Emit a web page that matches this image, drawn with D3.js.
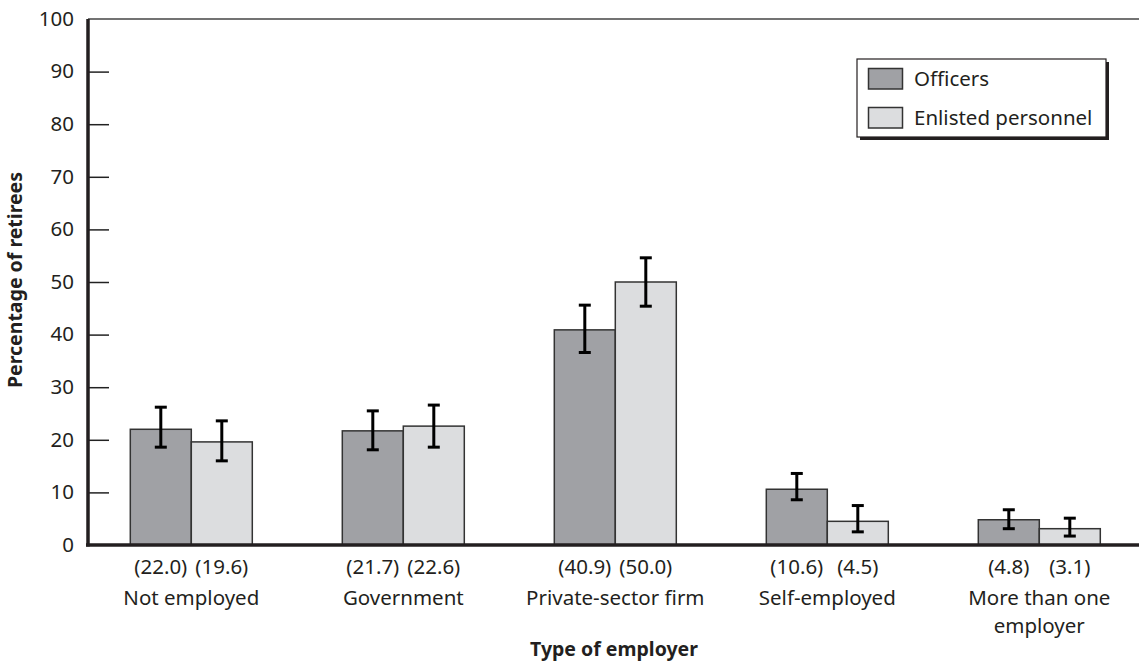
<!DOCTYPE html>
<html><head><meta charset="utf-8">
<script src="https://cdn.jsdelivr.net/npm/d3@7"></script>
<style>
html,body{margin:0;padding:0;background:#fff;}
svg{display:block;font-family:"Noto Sans","Open Sans",sans-serif;}
</style></head>
<body>
<svg id="chart" width="1139" height="664"></svg>
<script>
const categories = [["Not employed"], ["Government"], ["Private-sector firm"], ["Self-employed"], ["More than one", "employer"]];
const seriesNames = ["Officers", "Enlisted personnel"];
const officers = [22.0, 21.7, 40.9, 10.6, 4.8];
const enlisted = [19.6, 22.6, 50.0, 4.5, 3.1];
const officersLabels = ["(22.0)", "(21.7)", "(40.9)", "(10.6)", "(4.8)"];
const enlistedLabels = ["(19.6)", "(22.6)", "(50.0)", "(4.5)", "(3.1)"];
const officersLow = [18.6, 18.1, 36.6, 8.6, 3.1];
const officersHigh = [26.2, 25.5, 45.6, 13.6, 6.7];
const enlistedLow = [16.0, 18.6, 45.4, 2.5, 1.7];
const enlistedHigh = [23.6, 26.6, 54.6, 7.5, 5.1];
const yTicks = [0, 10, 20, 30, 40, 50, 60, 70, 80, 90, 100];
const yTitle = "Percentage of retirees";
const xTitle = "Type of employer";
const colors = ["#a0a1a5", "#dcdddf"];

const svg = d3.select("#chart");
const catKeys = categories.map(c => c.join(" "));
const y = d3.scaleLinear().domain([0, 100]).range([545, 19]);
const x0 = d3.scaleBand().domain(catKeys).range([85.3, 1145.3]).padding(0);
const groupW = 122;
const x1 = d3.scaleBand().domain(seriesNames).range([0, groupW]).padding(0);
const gx = k => x0(k) + x0.bandwidth() / 2 - groupW / 2;
const FS = 20.5;

const series = [
  {name: seriesNames[0], vals: officers, lo: officersLow, hi: officersHigh, labels: officersLabels, color: colors[0]},
  {name: seriesNames[1], vals: enlisted, lo: enlistedLow, hi: enlistedHigh, labels: enlistedLabels, color: colors[1]}
];

// top frame line
svg.append("line").attr("x1", 88).attr("x2", 1139).attr("y1", y(100)).attr("y2", y(100))
  .attr("stroke", "#444").attr("stroke-width", 1.5);

// y axis ticks (inward)
const yAxis = d3.axisRight(y).tickValues(yTicks.filter(t => t > 0 && t < 100)).tickSize(21).tickFormat("");
const ya = svg.append("g").attr("transform", "translate(88,0)").call(yAxis);
ya.select(".domain").remove();
ya.selectAll(".tick line").attr("stroke", "#222").attr("stroke-width", 1.5);

svg.append("g").selectAll("text").data(yTicks).join("text")
  .attr("x", 74).attr("y", d => y(d)).attr("dy", "0.33em")
  .attr("text-anchor", "end").attr("font-size", FS).attr("fill", "#231f20")
  .text(d => d);

// bars
series.forEach((s) => {
  svg.append("g").selectAll("rect").data(catKeys).join("rect")
    .attr("x", k => gx(k) + x1(s.name))
    .attr("width", x1.bandwidth())
    .attr("y", (k, i) => y(s.vals[i]))
    .attr("height", (k, i) => y(0) - y(s.vals[i]))
    .attr("fill", s.color).attr("stroke", "#333").attr("stroke-width", 1.5);
});

// error bars
series.forEach((s) => {
  const g = svg.append("g").attr("stroke", "#000").attr("stroke-width", 3);
  catKeys.forEach((k, i) => {
    const cx = gx(k) + x1(s.name) + x1.bandwidth() / 2;
    g.append("line").attr("x1", cx).attr("x2", cx).attr("y1", y(s.hi[i])).attr("y2", y(s.lo[i]));
    g.append("line").attr("x1", cx - 6).attr("x2", cx + 6).attr("y1", y(s.hi[i])).attr("y2", y(s.hi[i]));
    g.append("line").attr("x1", cx - 6).attr("x2", cx + 6).attr("y1", y(s.lo[i])).attr("y2", y(s.lo[i]));
  });
});

// axes lines
svg.append("line").attr("x1", 88).attr("x2", 88).attr("y1", y(100)).attr("y2", y(0) + 1.5)
  .attr("stroke", "#231f20").attr("stroke-width", 3.5);
svg.append("line").attr("x1", 86).attr("x2", 1139).attr("y1", y(0)).attr("y2", y(0))
  .attr("stroke", "#231f20").attr("stroke-width", 3.5);

// value labels
series.forEach((s) => {
  svg.append("g").selectAll("text").data(catKeys).join("text")
    .attr("x", k => gx(k) + x1(s.name) + x1.bandwidth() / 2)
    .attr("y", 574).attr("text-anchor", "middle").attr("font-size", FS).attr("fill", "#231f20")
    .text((k, i) => s.labels[i]);
});

// category labels (one text element per line)
categories.forEach((c, i) => {
  const cx = x0(catKeys[i]) + x0.bandwidth() / 2;
  c.forEach((line, j) => {
    svg.append("text").attr("x", cx).attr("y", 605 + j * 28)
      .attr("text-anchor", "middle").attr("font-size", FS).attr("fill", "#231f20").text(line);
  });
});

// axis titles
svg.append("text").attr("x", 614).attr("y", 656).attr("text-anchor", "middle")
  .attr("font-size", 19.5).attr("font-weight", "bold").attr("fill", "#231f20").text(xTitle);
svg.append("text").attr("transform", "translate(22,280) rotate(-90)").attr("text-anchor", "middle")
  .attr("font-size", 19.5).attr("font-weight", "bold").attr("fill", "#231f20").text(yTitle);

// legend
const lg = svg.append("g");
lg.append("rect").attr("x", 860).attr("y", 62).attr("width", 249).attr("height", 78).attr("fill", "#231f20");
lg.append("rect").attr("x", 857).attr("y", 59).attr("width", 249).attr("height", 78)
  .attr("fill", "#fff").attr("stroke", "#231f20").attr("stroke-width", 1.2);
series.forEach((s, i) => {
  const yy = 68.5 + i * 39;
  lg.append("rect").attr("x", 868.5).attr("y", yy).attr("width", 34).attr("height", 20.5)
    .attr("fill", s.color).attr("stroke", "#333").attr("stroke-width", 1.5);
  lg.append("text").attr("x", 914).attr("y", yy + 17.5).attr("font-size", FS).attr("fill", "#231f20").text(s.name);
});
</script>
</body></html>
